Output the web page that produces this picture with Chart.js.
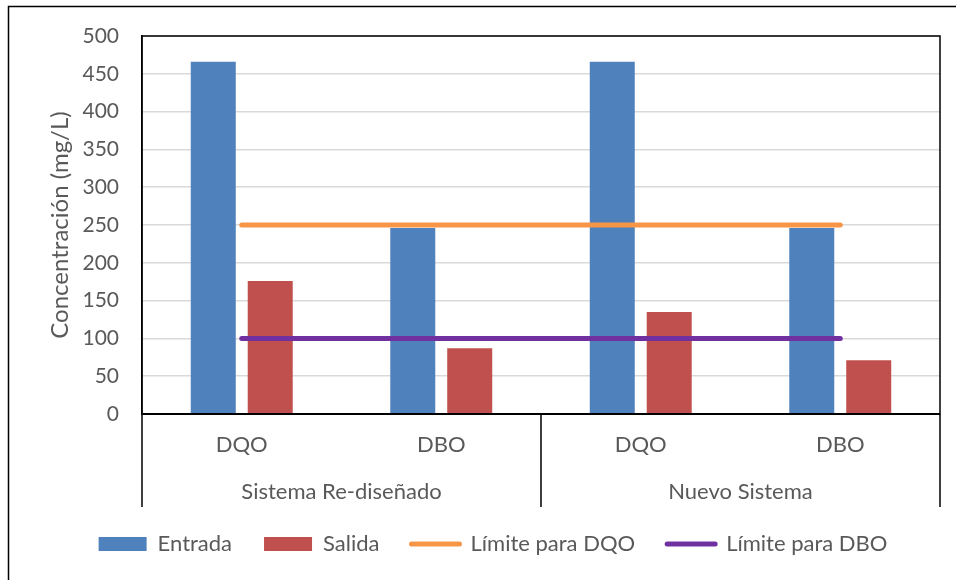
<!DOCTYPE html>
<html>
<head>
<meta charset="utf-8">
<script src="https://cdn.jsdelivr.net/npm/chart.js@4/dist/chart.umd.min.js"></script>
<style>
  html, body { margin: 0; padding: 0; background: #ffffff; }
  #wrap { width: 956px; height: 580px; }
</style>
</head>
<body>
<div id="wrap"><canvas id="chart" width="956" height="580"></canvas></div>
<script>
// Categories (parameter) and their system groups
const categories = ['DQO', 'DBO', 'DQO', 'DBO'];
const groups = ['Sistema Re-diseñado', 'Nuevo Sistema'];

// Concentrations in mg/L
const entrada = [466, 246, 466, 246];
const salida = [176, 87, 135, 71];
const limiteDQO = [250, 250, 250, 250];
const limiteDBO = [100, 100, 100, 100];

// Y axis ticks
const yMin = 0;
const yMax = 500;
const yStep = 50;

const textColor = '#595959';
const fontFamily = 'Lato, "Open Sans", sans-serif';

// Frames: outer chart border, plot-area box and the group separators
const framePlugin = {
  id: 'frame',
  afterDraw(chart) {
    const { ctx, chartArea, scales } = chart;
    const x = scales.x;
    ctx.save();
    ctx.strokeStyle = '#000000';
    ctx.lineWidth = 1.5;
    // outer border
    ctx.strokeRect(8.5, 6.5, 1200, 1200);
    // plot area box
    ctx.strokeRect(chartArea.left, chartArea.top, chartArea.right - chartArea.left, chartArea.bottom - chartArea.top);
    // separators between groups, running down through both label rows
    const mid = (x.getPixelForValue(1) + x.getPixelForValue(2)) / 2;
    const yEnd = chartArea.bottom + 93;
    ctx.beginPath();
    [chartArea.left, mid, chartArea.right].forEach(px => {
      ctx.moveTo(px, chartArea.bottom);
      ctx.lineTo(px, yEnd);
    });
    ctx.stroke();
    // x axis baseline
    ctx.lineWidth = 2.2;
    ctx.beginPath();
    ctx.moveTo(chartArea.left, chartArea.bottom);
    ctx.lineTo(chartArea.right, chartArea.bottom);
    ctx.stroke();
    ctx.restore();
  }
};

function build() {
  Chart.defaults.font.family = fontFamily;
  Chart.defaults.color = textColor;

  new Chart(document.getElementById('chart'), {
    type: 'bar',
    data: {
      labels: categories,
      datasets: [
        {
          type: 'bar', label: 'Entrada', data: entrada,
          backgroundColor: '#4F81BD', borderWidth: 0, order: 1,
          pointStyle: 'rect',
          categoryPercentage: 0.571, barPercentage: 0.79
        },
        {
          type: 'bar', label: 'Salida', data: salida,
          backgroundColor: '#C0504D', borderWidth: 0, order: 1,
          pointStyle: 'rect',
          categoryPercentage: 0.571, barPercentage: 0.79
        },
        {
          type: 'line', label: 'Límite para DQO', data: limiteDQO,
          borderColor: '#F79646', backgroundColor: '#F79646',
          borderWidth: 5, borderCapStyle: 'round', pointRadius: 0,
          pointStyle: 'line', fill: false, order: 0
        },
        {
          type: 'line', label: 'Límite para DBO', data: limiteDBO,
          borderColor: '#7030A0', backgroundColor: '#7030A0',
          borderWidth: 5, borderCapStyle: 'round', pointRadius: 0,
          pointStyle: 'line', fill: false, order: 0
        }
      ]
    },
    options: {
      responsive: false,
      devicePixelRatio: 1,
      animation: false,
      layout: { padding: { top: 36, left: 46, right: 16, bottom: 15 } },
      plugins: {
        tooltip: { enabled: false },
        legend: {
          display: true,
          position: 'bottom',
          labels: {
            usePointStyle: true,
            pointStyleWidth: 48,
            boxHeight: 14,
            padding: 32,
            color: textColor,
            font: { size: 22, family: fontFamily },
            sort: (a, b) => a.datasetIndex - b.datasetIndex,
            generateLabels(chart) {
              const items = Chart.defaults.plugins.legend.labels.generateLabels(chart);
              items.forEach(it => {
                const ds = chart.data.datasets[it.datasetIndex];
                if (ds.type === 'line') {
                  it.lineWidth = 5;
                  it.lineCap = 'round';
                  it.strokeStyle = ds.borderColor;
                  it.pointStyle = 'line';
                } else {
                  it.lineWidth = 0;
                  it.pointStyle = 'rect';
                }
              });
              return items;
            }
          }
        }
      },
      scales: {
        y: {
          min: yMin, max: yMax,
          ticks: { stepSize: yStep, padding: 23, color: textColor, font: { size: 21 } },
          grid: { color: '#D9D9D9', lineWidth: 1.5, drawTicks: false },
          border: { display: true, color: '#000000', width: 1.5 },
          title: {
            display: true, text: 'Concentración (mg/L)', color: textColor,
            font: { size: 24 }, padding: { top: 0, bottom: 0 }
          },
          afterFit(scale) { scale.width = 96; }
        },
        x: {
          position: 'bottom',
          grid: { display: false, drawTicks: false },
          border: { display: false },
          ticks: { padding: 17.8, color: textColor, font: { size: 22 }, maxRotation: 0, autoSkip: false },
          afterFit(scale) { scale.height = 45; }
        },
        x2: {
          type: 'category',
          position: 'bottom',
          labels: groups,
          offset: true,
          grid: { display: false, drawTicks: false },
          border: { display: false },
          ticks: { padding: 19.8, color: textColor, font: { size: 22 }, maxRotation: 0, autoSkip: false },
          afterFit(scale) { scale.height = 42; }
        }
      }
    },
    plugins: [framePlugin]
  });
}

if (document.fonts && document.fonts.load) {
  document.fonts.load('22px Lato').then(build, build);
} else {
  build();
}
</script>
</body>
</html>
